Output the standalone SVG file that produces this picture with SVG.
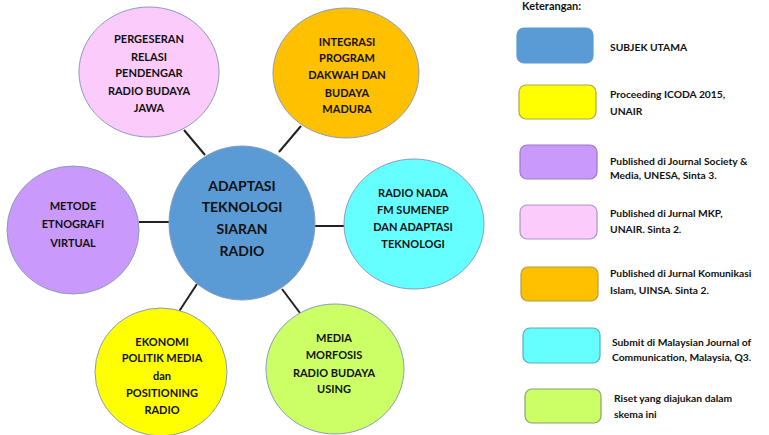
<svg xmlns="http://www.w3.org/2000/svg" width="769" height="435" viewBox="0 0 769 435">
<style>
  text { font-family: Lato, "Liberation Sans", sans-serif; font-weight: bold; fill: #111; }
  .n { font-size: 11px; text-anchor: middle; }
  .c { font-size: 14px; text-anchor: middle; }
  .l { font-size: 10.3px; }
  .conn line { stroke: #222; stroke-width: 2; }
  .node ellipse { stroke: #8a9cbf; stroke-width: 1; }
  .key rect { stroke-width: 1.2; }
</style>
<rect width="769" height="435" fill="#ffffff"/>
<g id="connectors" class="conn">
  <line x1="184" y1="130" x2="205" y2="155"/>
  <line x1="301" y1="126" x2="279" y2="152"/>
  <line x1="139" y1="222" x2="170" y2="222"/>
  <line x1="314" y1="226" x2="344" y2="226"/>
  <line x1="197" y1="284" x2="178" y2="313"/>
  <line x1="282" y1="289" x2="300" y2="313"/>
</g>
<g id="node-pergeseran" class="node">
  <ellipse cx="149" cy="72" rx="70" ry="65" fill="#fbcbfb"/>
  <text class="n" x="149" y="43">PERGESERAN</text>
  <text class="n" x="149" y="61">RELASI</text>
  <text class="n" x="149" y="77">PENDENGAR</text>
  <text class="n" x="149" y="95">RADIO BUDAYA</text>
  <text class="n" x="149" y="112">JAWA</text>
</g>
<g id="node-integrasi" class="node">
  <ellipse cx="346" cy="73" rx="73" ry="65" fill="#ffc000"/>
  <text class="n" x="347" y="46">INTEGRASI</text>
  <text class="n" x="347" y="62">PROGRAM</text>
  <text class="n" x="347" y="79">DAKWAH DAN</text>
  <text class="n" x="347" y="97">BUDAYA</text>
  <text class="n" x="347" y="113">MADURA</text>
</g>
<g id="node-center" class="node">
  <ellipse cx="242" cy="223" rx="73" ry="77" fill="#5b9bd5"/>
  <text class="c" x="242" y="191">ADAPTASI</text>
  <text class="c" x="242" y="212">TEKNOLOGI</text>
  <text class="c" x="242" y="234">SIARAN</text>
  <text class="c" x="242" y="256">RADIO</text>
</g>
<g id="node-metode" class="node">
  <ellipse cx="73" cy="230" rx="66" ry="64" fill="#c99afc"/>
  <text class="n" x="73" y="210">METODE</text>
  <text class="n" x="73" y="228">ETNOGRAFI</text>
  <text class="n" x="73" y="247">VIRTUAL</text>
</g>
<g id="node-radionada" class="node">
  <ellipse cx="414" cy="224" rx="70" ry="65" fill="#66ffff"/>
  <text class="n" x="413" y="197">RADIO NADA</text>
  <text class="n" x="413" y="214">FM SUMENEP</text>
  <text class="n" x="413" y="231">DAN ADAPTASI</text>
  <text class="n" x="413" y="248">TEKNOLOGI</text>
</g>
<g id="node-ekonomi" class="node">
  <ellipse cx="161" cy="372" rx="66" ry="64" fill="#ffff00"/>
  <text class="n" x="162" y="346">EKONOMI</text>
  <text class="n" x="162" y="362">POLITIK MEDIA</text>
  <text class="n" x="162" y="380">dan</text>
  <text class="n" x="162" y="397">POSITIONING</text>
  <text class="n" x="162" y="414">RADIO</text>
</g>
<g id="node-mediamorfosis" class="node">
  <ellipse cx="335" cy="369" rx="69" ry="65" fill="#ccff66"/>
  <text class="n" x="334" y="342">MEDIA</text>
  <text class="n" x="334" y="359">MORFOSIS</text>
  <text class="n" x="334" y="377">RADIO BUDAYA</text>
  <text class="n" x="334" y="393">USING</text>
</g>
<g id="legend" class="key">
  <text class="l" x="522" y="10" style="font-size:11px">Keterangan:</text>
  <rect x="517" y="28" width="76" height="35" rx="7" fill="#5b9bd5" stroke="#5b9bd5"/>
  <text class="l" x="610" y="51">SUBJEK UTAMA</text>
  <rect x="519" y="85" width="77" height="34" rx="7" fill="#ffff00" stroke="#a9a94a"/>
  <text class="l" x="610" y="98">Proceeding ICODA 2015,</text>
  <text class="l" x="610" y="115">UNAIR</text>
  <rect x="520" y="145" width="77" height="34" rx="7" fill="#c99afc" stroke="#9a78c8"/>
  <text class="l" x="610" y="165">Published di Journal Society &amp;</text>
  <text class="l" x="610" y="179">Media, UNESA, Sinta 3.</text>
  <rect x="520" y="205" width="77" height="34" rx="7" fill="#fbcbfb" stroke="#a698c4"/>
  <text class="l" x="610" y="217">Published di Jurnal MKP,</text>
  <text class="l" x="610" y="233">UNAIR. Sinta 2.</text>
  <rect x="521" y="267" width="77" height="34" rx="7" fill="#ffc000" stroke="#b89a4a"/>
  <text class="l" x="610" y="277">Published di Jurnal Komunikasi</text>
  <text class="l" x="610" y="294">Islam, UINSA. Sinta 2.</text>
  <rect x="523" y="328" width="77" height="35" rx="7" fill="#66ffff" stroke="#5aa9c0"/>
  <text class="l" x="612" y="346">Submit di Malaysian Journal of</text>
  <text class="l" x="612" y="361">Communication, Malaysia, Q3.</text>
  <rect x="525" y="389" width="76" height="34" rx="7" fill="#ccff66" stroke="#8aa070"/>
  <text class="l" x="614" y="402">Riset yang diajukan dalam</text>
  <text class="l" x="614" y="418">skema ini</text>
</g>
</svg>
